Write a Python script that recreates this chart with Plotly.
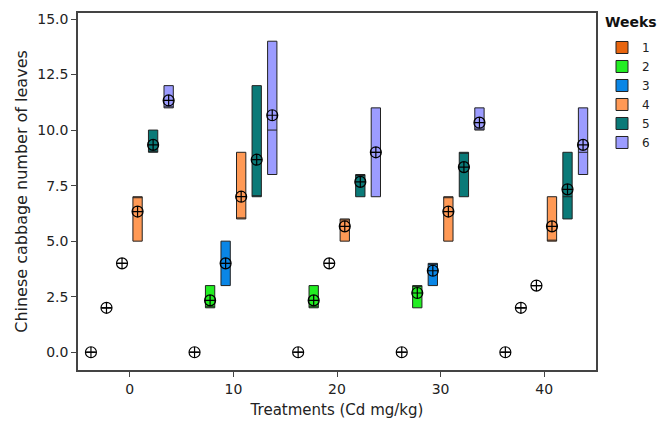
import numpy as np
import plotly.graph_objects as go

treatments = [0, 10, 20, 30, 40]
week_names = ["1", "2", "3", "4", "5", "6"]
week_colors = ["#E8650F", "#22EE22", "#0A86E6", "#FF9955", "#0A7A78", "#9C9CFF"]

# replicate values (3 per treatment) for each week
week1 = [[0, 0, 0], [0, 0, 0], [0, 0, 0], [0, 0, 0], [0, 0, 0]]
week2 = [[2, 2, 2], [2, 2, 3], [2, 2, 3], [2, 3, 3], [2, 2, 2]]
week3 = [[4, 4, 4], [3, 4, 5], [4, 4, 4], [3, 4, 4], [3, 3, 3]]
week4 = [[5, 7, 7], [6, 6, 9], [5, 6, 6], [5, 7, 7], [5, 5, 7]]
week5 = [[9, 9, 10], [7, 7, 12], [7, 8, 8], [7, 9, 9], [6, 7, 9]]
week6 = [[11, 11, 12], [8, 10, 14], [7, 9, 11], [10, 10, 11], [8, 9, 11]]
weeks = [week1, week2, week3, week4, week5, week6]

dodge = 1.5
box_width = 0.9

fig = go.Figure()
for i, (name, color, data) in enumerate(zip(week_names, week_colors, weeks)):
    off = (i - 2.5) * dodge
    xs, ys = [], []
    for t, vals in zip(treatments, data):
        xs += [t + off] * len(vals)
        ys += vals
    fig.add_trace(go.Box(
        x=xs, y=ys, name=name, fillcolor=color,
        line=dict(color="#222222", width=1),
        width=box_width, boxpoints=False, quartilemethod="exclusive",
        whiskerwidth=0, showlegend=True,
    ))
    means = [float(np.mean(v)) for v in data]
    fig.add_trace(go.Scatter(
        x=[t + off for t in treatments], y=means, mode="markers",
        marker=dict(symbol="circle-cross-open", size=11, color="black",
                    line=dict(width=1.2, color="black")),
        showlegend=False, hoverinfo="skip",
    ))

axis_common = dict(
    showgrid=False, zeroline=False, showline=True, linecolor="#444444",
    linewidth=1.5, mirror=True, ticks="outside", ticklen=5, tickcolor="#444444",
    tickfont=dict(size=14, color="#222222"), automargin=False,
)
fig.update_layout(
    width=659, height=417,
    margin=dict(l=70, r=71, t=5, b=55, autoexpand=False),
    paper_bgcolor="white", plot_bgcolor="white",
    font=dict(family="DejaVu Sans", color="#222222"),
    boxmode="overlay",
    xaxis=dict(range=[-5, 45], tickvals=[0, 10, 20, 30, 40],
               title=dict(text="Treatments (Cd mg/kg)", font=dict(size=15), standoff=9),
               **axis_common),
    yaxis=dict(range=[-0.8, 15.27], tickvals=[0, 2.5, 5, 7.5, 10, 12.5, 15],
               tickformat=".1f",
               title=dict(text="Chinese cabbage number of leaves", font=dict(size=16), standoff=6),
               **axis_common),
    legend=dict(font=dict(size=12), x=1.0116, y=0.944, xanchor="left", yanchor="top",
                bgcolor="rgba(0,0,0,0)", tracegroupgap=0),
    annotations=[dict(text="<b>Weeks</b>", xref="paper", yref="paper",
                      x=1.013, y=0.975, xanchor="left", yanchor="middle",
                      showarrow=False, font=dict(size=14, color="#111111"))],
)

fig.write_html("out.html")
